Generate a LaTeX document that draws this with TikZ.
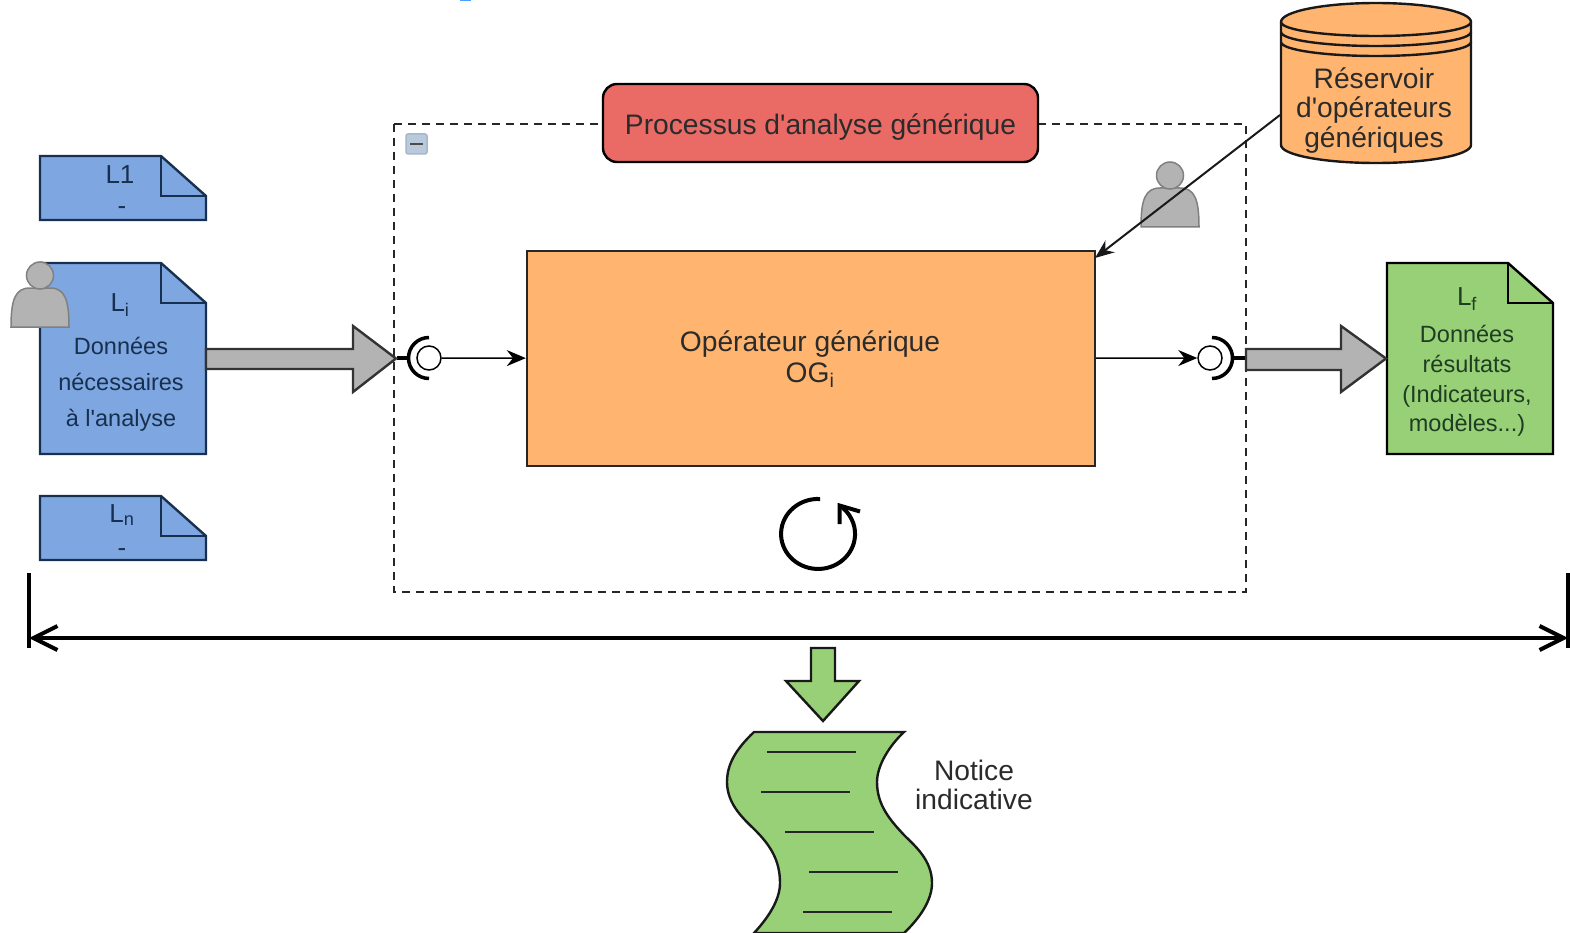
\documentclass[tikz,border=0pt]{standalone}
\usepackage{fontspec}
\setmainfont{Liberation Sans}[Ligatures=TeXOff]
\usetikzlibrary{arrows.meta}
\definecolor{docblue}{HTML}{7EA6E0}
\definecolor{docgreen}{HTML}{97D077}
\definecolor{oporange}{HTML}{FFB570}
\definecolor{procred}{HTML}{EA6B66}
\definecolor{softgrey}{HTML}{B3B3B3}
\definecolor{inkgrey}{HTML}{2B2B2B}
\definecolor{inkblue}{HTML}{17304F}
\definecolor{inkgreen}{HTML}{1F3D22}
\definecolor{iconfill}{HTML}{B8CADB}
\definecolor{iconedge}{HTML}{A5B8CB}
\tikzset{
  page/.style={draw=black!90, line width=2.4pt, line join=miter},
  bigtxt/.style={font=\fontsize{28.2}{30}\selectfont, text=inkgrey, align=center, inner sep=0pt},
  doctxt/.style={font=\fontsize{23.5}{36}\selectfont, text=inkblue, align=center, inner sep=0pt},
  reftxt/.style={font=\fontsize{26}{30}\selectfont, text=inkblue, align=center, inner sep=0pt},
  port/.style={circle, draw=black, line width=1.5pt, fill=white, minimum size=24pt, inner sep=0pt},
  flow/.style={draw=black, line width=1.5pt, -{Stealth[length=19pt,width=16pt]}},
  thickarrow/.style={draw=black!80, line width=2.4pt, fill=softgrey, line join=miter},
  scrollline/.style={draw=black!85, line width=2.2pt}
}
% document with a folded corner
\newcommand{\docpage}[5]{
  \draw[page, draw=#5, fill=#4] (#1,#2) -- ++(121,0) -- ++(45,40) |- (#1,#3) -- cycle;
  \draw[page, draw=#5] (#1+121,#2) -- ++(0,40) -- ++(45,0);
}
% grey user
\newcommand{\persona}[2]{
  \draw[draw=black!50, line width=1.5pt, fill=softgrey] (#1-29,#2) .. controls (#1-29,#2-27) and (#1-25,#2-39) .. (#1-10,#2-39) -- (#1+10,#2-39) .. controls (#1+25,#2-39) and (#1+29,#2-27) .. (#1+29,#2) -- cycle;
  \draw[draw=black!50, line width=1.5pt, fill=softgrey] (#1,#2-51.5) circle (13.5);
}
\begin{document}
\begin{tikzpicture}[x=1pt,y=-1pt]
\useasboundingbox (0,0) rectangle (1570,933);
\fill[blue!55!cyan!70] (460,0) rectangle (471,1.5);

% process frame
\draw[draw=black!85, line width=2.5pt, dash pattern=on 8pt off 6pt] (394,124) rectangle (1246,592);
\node[draw=black, line width=2.4pt, fill=procred, rounded corners=14pt, minimum width=435pt, minimum height=78pt] (title) at (820.5,123) {};
\node[bigtxt] (titletxt) at (820.5,127) {Processus d'analyse générique};
\draw[draw=iconedge, line width=1.5pt, fill=iconfill, rounded corners=2pt] (406,134) rectangle (427,154);
\draw[draw=black!70, line width=2.5pt] (410,144) -- (423,144);

% documents on the left
\docpage{40}{156}{220}{docblue}{inkblue}
\docpage{40}{263}{454}{docblue}{inkblue}
\docpage{40}{496}{560}{docblue}{inkblue}
\node[reftxt] (l1) at (120,175) {L1};
\node[reftxt] (l1dash) at (122,211) {-};
\node[reftxt] (li) at (120,305) {L\textsubscript{i}};
\node[doctxt] (lidata) at (121,384) {Données\\nécessaires\\à l'analyse};
\node[reftxt] (ln) at (122,515) {L\textsubscript{n}};
\node[reftxt] (lndash) at (122,553) {-};
\persona{40}{327}

% document on the right
\docpage{1387}{263}{454}{docgreen}{black}
\node[reftxt, text=inkgreen] (lf) at (1467,299) {L\textsubscript{f}};
\node[doctxt, text=inkgreen, font=\fontsize{23.5}{29.6}\selectfont] (lfdata) at (1467,381) {Données\\résultats\\(Indicateurs,\\modèles...)};

% operator
\node[draw=black!85, line width=2.4pt, fill=oporange, minimum width=568pt, minimum height=215pt] (opgen) at (811,358.5) {};
\node[bigtxt, font=\fontsize{28.2}{31}\selectfont] (optxt) at (810,359) {Opérateur générique\\OG\textsubscript{i}};

% ports
\draw[draw=black, line width=3.5pt] (429,337.5) arc (-90:-270:20.5);
\draw[draw=black, line width=3.5pt] (397,358) -- (408,358);
\node[port] (portin) at (429,358) {};
\draw[draw=black, line width=3.5pt] (1212,337.5) arc (-90:90:20.5);
\draw[draw=black, line width=3.5pt] (1232,358) -- (1246,358);
\node[port] (portout) at (1210,358) {};
\draw[flow] (portin) -- (opgen);
\draw[flow] (opgen) -- (portout);

% big arrows
\draw[thickarrow] (206,349) -- (353,349) -- (353,326) -- (396,358.5) -- (353,392) -- (353,369) -- (206,369) -- cycle;
\draw[thickarrow] (1246,349) -- (1341,349) -- (1341,326) -- (1386,358.5) -- (1341,392) -- (1341,370) -- (1246,370) -- cycle;

% reservoir
\draw[page, fill=oporange] (1281,22) arc (180:360:95 and 19) -- (1471,145) arc (0:180:95 and 18) -- cycle;
\draw[page] (1281,22) arc (180:0:95 and 14);
\draw[page] (1281,32) arc (180:0:95 and 14);
\draw[page] (1281,42) arc (180:0:95 and 14);
\node[bigtxt, font=\fontsize{28.2}{29.5}\selectfont] (reservoir) at (1374,110.5) {Réservoir\\d'opérateurs\\génériques};
\coordinate (resout) at (1280,115);
\coordinate (opin) at (1095,258);
\persona{1170}{227}
\draw[draw=black!90, line width=2pt, -{Stealth[length=19pt,width=15pt]}] (resout) -- (opin);

% loop marker
\draw[draw=black, line width=4pt] (820,499) arc (-87:-413:37 and 35);
\draw[draw=black, line width=4pt, line join=miter] (839.5,524) -- (839.5,505.5) -- (860,511.5);

% span of the whole analysis
\coordinate (spanl) at (29,638);
\coordinate (spanr) at (1568,638);
\draw[draw=black, line width=4.5pt] (29,573) -- (29,648);
\draw[draw=black, line width=4.5pt] (1568,573) -- (1568,648);
\draw[draw=black, line width=3.5pt, {Straight Barb[length=24pt,width=24pt,line width=4pt]}-{Straight Barb[length=24pt,width=24pt,line width=4pt]}] (spanl) -- (spanr);

% notice
\draw[page, fill=docgreen] (811,648) -- (835,648) -- (835,681) -- (859,681) -- (823,721) -- (786,681) -- (811,681) -- cycle;
\draw[page, fill=docgreen] (754,732) -- (904,732) .. controls (890,745) and (877,765) .. (877,782) .. controls (877,805) and (890,820) .. (904,835) .. controls (915,846) and (932,860) .. (932,883) .. controls (932,900) and (920,918) .. (904,933) -- (754,933) .. controls (768,918) and (780,900) .. (780,883) .. controls (780,860) and (770,845) .. (755,830) .. controls (745,820) and (727,805) .. (727,782) .. controls (727,765) and (735,750) .. (754,732) -- cycle;
\draw[scrollline] (767,752) -- (856,752);
\draw[scrollline] (761,792) -- (850,792);
\draw[scrollline] (785,832) -- (874,832);
\draw[scrollline] (809,872) -- (898,872);
\draw[scrollline] (803,912) -- (892,912);
\node[bigtxt, font=\fontsize{28.2}{29.5}\selectfont] (notice) at (974,785) {Notice\\indicative};
\end{tikzpicture}
\end{document}
